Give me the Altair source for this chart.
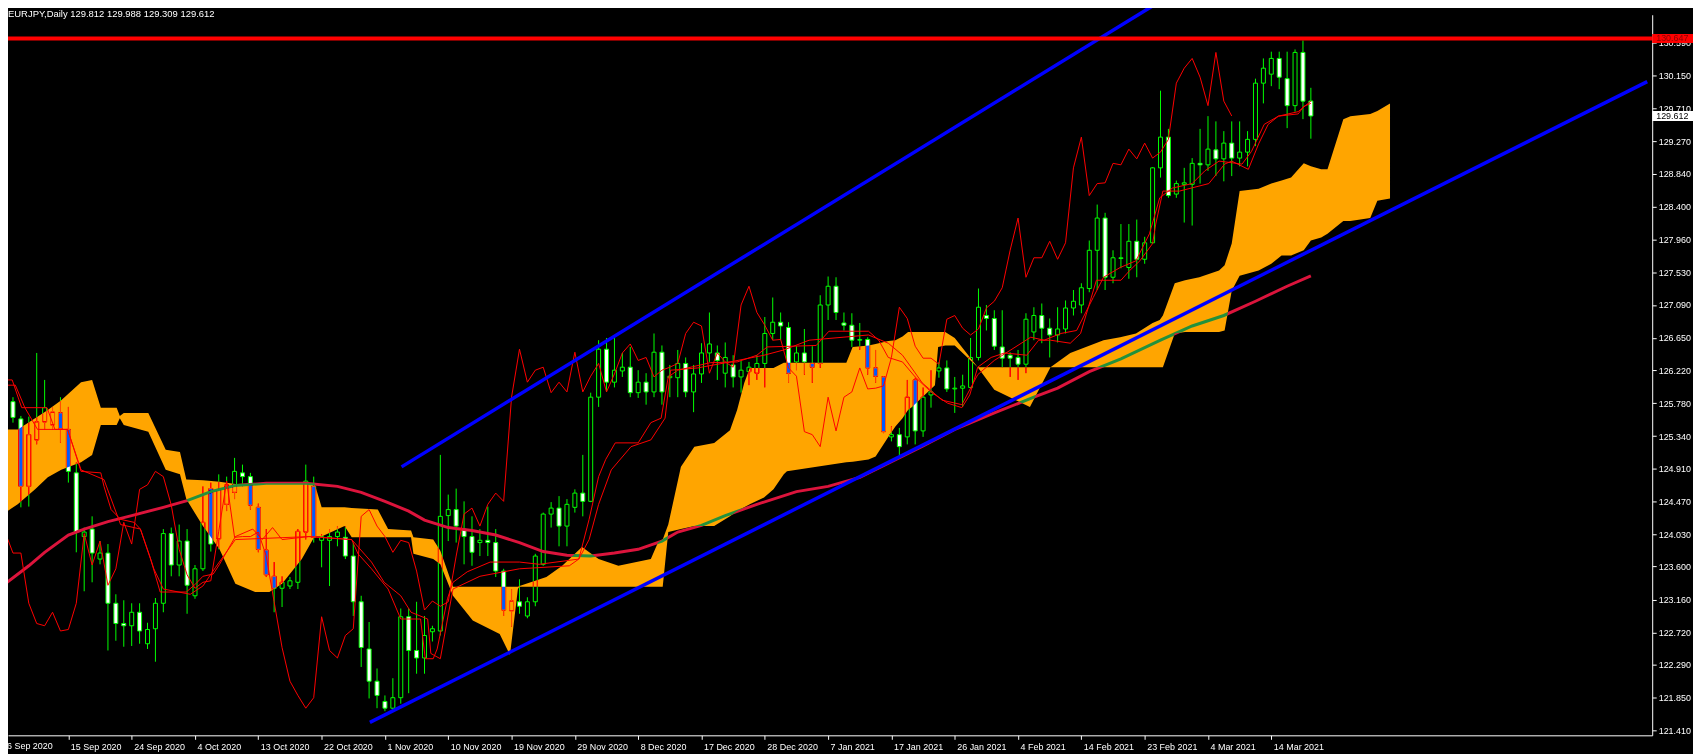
import altair as alt
import pandas as pd

# ---------------- data ----------------
opens = [125.69,125.80,125.57,124.67,125.29,125.53,125.49,125.65,125.43,124.85,
         124.00,124.10,123.70,123.78,123.11,122.84,122.81,122.99,122.57,122.77,
         123.11,124.04,123.62,123.94,123.21,123.57,124.64,123.97,124.43,124.59,
         124.85,124.80,124.39,123.82,123.47,123.31,123.34,123.39,124.06,124.67,
         123.95,123.95,124.00,123.99,123.74,123.13,122.50,122.07,121.80,121.71,
         121.85,122.93,122.48,122.38,122.73,122.74,124.28,124.36,124.10,124.00,
         123.92,123.95,123.92,123.54,123.01,123.13,122.94,123.13,123.63,124.30,
         124.38,124.14,124.39,124.58,124.47,125.86,126.50,126.06,126.21,126.26,
         125.92,126.06,125.93,126.46,126.12,126.12,126.31,125.93,126.17,126.45,
         126.45,126.18,126.29,126.13,126.20,126.18,126.31,126.71,126.86,126.79,
         126.33,126.45,126.31,126.31,127.09,127.34,126.85,126.82,126.62,126.63,
         126.25,126.13,125.33,125.36,125.33,126.09,125.41,125.89,126.21,126.25,
         125.97,125.98,125.99,126.39,126.95,126.91,126.53,126.42,126.39,126.30,
         126.73,126.95,126.78,126.69,126.77,127.05,127.09,127.31,127.82,128.25,
         127.46,127.71,127.59,127.94,127.70,127.92,128.92,129.33,128.57,128.70,
         128.70,128.98,128.96,129.16,129.04,129.25,129.05,129.13,129.30,130.05,
         130.17,130.38,130.11,129.75,130.46,129.812]
highs = [125.86,125.86,125.61,125.60,126.45,126.09,125.72,125.86,125.73,124.99,
         124.12,124.27,123.94,123.90,123.23,123.15,123.11,123.11,122.85,123.18,
         124.10,124.12,124.16,124.10,123.62,124.67,124.72,124.83,124.80,125.05,
         124.96,124.85,124.44,124.10,123.66,123.47,123.46,124.10,124.96,124.80,
         124.03,124.10,124.14,124.14,123.92,123.21,122.86,122.24,121.88,122.11,
         123.04,123.04,123.13,122.94,122.81,125.09,124.56,124.64,124.47,124.27,
         124.10,124.40,124.10,123.57,123.30,123.43,123.19,123.77,124.32,124.46,
         124.54,124.50,124.63,125.09,125.92,126.62,126.65,126.65,126.45,126.53,
         126.22,126.18,126.71,126.55,126.29,126.49,126.39,126.29,126.58,126.99,
         126.55,126.59,126.42,126.35,126.33,126.42,126.93,127.19,126.99,126.86,
         126.54,126.77,126.54,127.22,127.47,127.46,126.99,126.98,126.85,126.66,
         126.49,126.14,125.47,125.45,126.09,126.12,125.99,126.22,126.33,126.35,
         126.13,126.16,126.65,127.31,127.09,127.02,127.02,126.46,126.49,126.98,
         127.06,127.11,126.91,127.06,127.15,127.29,127.38,127.95,128.43,128.32,
         127.82,128.17,128.17,128.23,128.00,128.93,129.95,129.44,128.75,128.92,
         129.05,129.44,129.61,129.54,129.41,129.54,129.54,129.41,130.11,130.38,
         130.47,130.47,130.47,130.50,130.62,129.988]
lows = [125.64,125.52,124.39,124.40,125.23,125.43,125.43,125.25,124.72,123.79,
        123.27,123.39,123.63,122.48,122.61,122.53,122.54,122.57,122.50,122.33,
        122.99,123.47,123.47,122.97,123.17,123.54,123.80,123.83,124.34,124.50,
        124.67,124.36,123.79,123.46,122.99,123.06,123.30,123.30,123.96,123.92,
        123.59,123.34,123.87,123.70,122.94,122.26,121.84,121.71,121.67,121.68,
        121.77,121.91,122.17,122.17,122.60,122.68,123.94,123.92,123.63,123.61,
        123.74,123.74,123.46,122.94,122.80,122.97,122.91,123.07,123.61,124.12,
        123.87,123.87,124.32,124.27,124.46,125.73,125.93,125.99,126.13,125.86,
        125.85,125.76,125.86,125.76,125.86,125.86,125.86,125.66,126.05,126.33,
        126.09,125.99,125.99,125.92,126.02,126.09,125.99,126.62,126.62,126.05,
        126.22,126.16,126.05,126.25,126.89,126.89,126.75,126.53,126.49,126.16,
        126.05,125.38,125.27,125.07,125.23,125.23,125.33,125.72,126.12,125.93,
        125.65,125.73,125.98,126.35,126.75,126.49,126.26,126.13,126.09,126.18,
        126.62,126.58,126.39,126.59,126.71,126.95,126.98,127.26,127.29,127.29,
        127.38,127.58,127.44,127.46,127.64,127.91,128.79,128.52,128.52,128.19,
        128.15,128.71,128.88,128.81,128.74,128.81,128.94,128.94,129.21,129.78,
        130.01,129.97,129.45,129.67,129.57,129.309]
closes = [125.80,125.59,124.67,125.36,125.53,125.72,125.66,125.44,124.87,124.06,
          124.06,123.78,123.78,123.11,122.84,122.81,122.99,122.74,122.76,123.11,
          124.04,123.62,123.94,123.35,123.57,124.19,123.90,124.63,124.69,124.87,
          124.80,124.42,123.83,123.49,123.31,123.39,123.41,124.07,124.74,123.99,
          124.00,124.00,124.06,123.74,123.13,122.52,122.07,121.88,121.71,121.85,
          122.93,122.48,122.38,122.68,122.77,124.27,124.36,124.14,124.00,123.79,
          123.95,123.92,123.54,123.02,123.14,123.07,123.13,123.74,124.30,124.38,
          124.14,124.43,124.58,124.47,125.86,126.50,126.06,126.22,126.26,125.92,
          126.06,125.93,126.46,125.93,126.14,126.31,125.93,126.17,126.45,126.57,
          126.35,126.39,126.13,126.22,126.26,126.31,126.71,126.86,126.81,126.18,
          126.45,126.33,126.26,127.09,127.34,126.99,126.82,126.62,126.63,126.25,
          126.14,125.40,125.36,125.20,125.86,125.41,125.86,125.93,126.25,125.97,
          125.98,126.01,126.39,127.06,126.91,126.54,126.38,126.38,126.30,126.90,
          126.95,126.78,126.69,126.77,127.05,127.14,127.32,127.82,128.25,127.46,
          127.72,127.72,127.94,127.70,127.92,128.92,129.33,128.55,128.71,128.72,
          128.98,128.96,129.17,129.04,129.25,129.05,129.13,129.30,130.05,130.25,
          130.38,130.13,129.75,130.46,129.81,129.612]

# Ichimoku cloud (bar position, upper edge, lower edge)
cloud_idx = [0.0,1.6,3.8,5.4,7.1,9.6,11.0,12.1,14.1,14.5,15.0,18.1,20.3,22.1,22.9,25.0,
             27.1,29.1,31.6,33.4,35.0,37.5,39.1,40.0,42.9,43.8,47.1,48.4,51.3,51.6,
             54.1,55.0,56.6,59.1,62.5,63.8,64.8,65.0,68.4,70.4,72.9,75.0,77.5,81.6,
             82.5,83.1,83.8,85.4,87.1,89.6,91.6,92.5,93.4,94.1,95.9,97.1,98.4,98.8,
             106.3,107.1,109.1,110.0,111.6,112.5,113.4,114.1,114.6,115.9,117.5,117.9,
             118.8,120.0,122.9,125.0,129.5,132.1,134.6,138.8,140.9,142.9,145.0,145.9,
             146.3,147.8,149.1,150.9,153.4,154.1,155.0,156.0,158.4,160.0,161.3,162.5,
             164.1,165.0,166.3,167.1,169.1,170.0,172.5,173.4,175.0]
cloud_hi = [125.43,125.43,125.58,125.69,125.82,126.06,126.09,125.72,125.72,125.61,125.65,
            125.65,125.16,125.13,124.76,124.75,124.73,124.70,124.71,124.71,124.71,124.71,
            124.71,124.39,124.39,124.38,124.36,124.10,124.08,123.99,123.96,123.81,123.33,
            123.33,123.33,123.33,123.33,123.34,123.46,123.61,123.86,123.70,123.61,123.70,
            123.92,123.96,124.16,124.93,125.20,125.25,125.42,125.69,126.05,126.25,126.25,
            126.25,126.32,126.32,126.32,126.53,126.55,126.57,126.61,126.62,126.67,126.73,
            126.73,126.73,126.73,126.73,126.73,126.65,126.26,126.26,126.26,126.26,126.45,
            126.62,126.66,126.71,126.85,126.89,126.95,127.38,127.42,127.46,127.55,127.62,
            127.91,128.61,128.64,128.71,128.75,128.79,128.98,128.94,128.90,128.90,129.57,
            129.61,129.64,129.68,129.78]
cloud_lo = [124.32,124.43,124.63,124.79,124.89,124.99,125.09,125.49,125.49,125.58,125.49,
            125.40,124.89,124.83,124.50,124.14,123.83,123.37,123.26,123.26,123.37,123.70,
            124.00,124.00,124.14,123.99,123.99,123.99,123.99,123.77,123.70,123.63,123.21,
            122.88,122.70,122.42,123.30,123.33,123.33,123.33,123.33,123.33,123.33,123.33,
            123.33,123.33,124.06,124.10,124.14,124.14,124.27,124.34,124.39,124.43,124.52,
            124.63,124.83,124.87,124.99,125.00,125.03,125.07,125.33,125.47,125.58,125.69,
            125.73,125.86,126.02,126.53,126.55,126.55,126.26,125.96,125.73,126.26,126.26,
            126.26,126.26,126.26,126.26,126.26,126.26,126.71,126.73,126.73,126.73,126.75,
            127.28,127.48,127.55,127.64,127.75,127.75,127.82,127.95,127.99,128.04,128.21,
            128.21,128.25,128.48,128.51]

# thick moving average
ma_idx = [0,3,5,8,10,13,16,20,23,26,29,33,38,42,45,48,51,53,56,59,62,65,68,71,74,77,
          80,83,85,88,91,95,100,104,108,112,116,120,125,130,133,137,141,146,150,154,
          158,162,165]
ma_val = [123.37,123.61,123.79,124.02,124.10,124.20,124.28,124.39,124.48,124.60,124.68,
          124.71,124.71,124.67,124.59,124.47,124.34,124.22,124.12,124.08,124.02,123.92,
          123.80,123.75,123.74,123.78,123.83,123.94,124.06,124.15,124.28,124.43,124.60,
          124.67,124.79,125.00,125.21,125.43,125.65,125.86,125.98,126.20,126.37,126.62,
          126.81,126.95,127.14,127.34,127.48]

# Tenkan-sen
tenkan_idx = [0,0.9,2.1,5.3,6.3,7.9,9.6,12.1,12.5,13.4,14.6,16.3,17.1,18.4,19.6,22.9,
              24.1,25.0,26.3,27.1,29.1,31.3,32.5,33.8,35.0,38.4,43.8,44.6,46.3,48.4,50.0,
              52.5,53.1,54.1,54.6,55.9,56.6,58.4,61.3,65.0,67.5,72.5,73.8,75.0,75.9,77.1,
              80.0,81.6,82.9,83.8,85.0,89.1,92.5,95.0,96.3,102.5,104.1,109.1,110.4,111.6,
              113.4,115.0,117.1,119.1,120.9,121.9,122.9,124.6,126.3,129.1,130.6,132.1,
              134.6,135.9,137.9,141.0,142.1,143.4,145.0,145.4,146.3,148.4,152.1,154.1,
              155.0,157.1,158.4,159.6,160.9,163.4,164.1,165.0]
tenkan_val = [126.09,126.09,125.72,125.72,125.43,125.43,124.87,124.85,124.67,124.36,124.23,
              124.19,124.10,123.70,123.26,123.26,123.37,123.47,123.50,123.63,124.00,124.10,
              123.96,124.12,123.96,124.00,123.96,123.77,123.57,123.30,122.90,122.90,122.37,
              122.37,122.50,123.17,123.39,123.53,123.66,123.66,123.63,123.70,124.23,124.80,
              125.03,125.25,125.25,125.52,125.58,126.13,126.22,126.32,126.33,126.42,126.53,
              126.55,126.74,126.74,126.62,126.39,126.33,126.13,125.92,125.78,125.72,125.89,
              126.26,126.39,126.45,126.42,126.62,126.62,126.58,126.71,127.42,127.42,127.55,
              127.68,127.91,128.17,128.61,128.61,128.71,128.97,129.01,128.90,129.24,129.50,
              129.61,129.64,129.74,129.78]

# Kijun-sen
kijun_idx = [0,1.3,2.5,4.1,7.9,9.6,12.5,14.6,17.1,18.8,20.0,23.4,25.0,26.6,29.1,38.4,43.8,
             46.3,47.9,50.0,51.3,53.4,53.8,55.0,55.9,56.6,60.0,65.0,71.3,72.5,73.8,75.0,
             76.6,79.1,81.6,83.4,84.1,87.5,91.6,95.9,98.4,101.6,109.1,111.6,113.4,115.9,
             118.4,120.9,122.9,125.0,129.6,131.3,133.4,135.4,137.5,138.8,140.9,142.9,
             144.6,145.9,147.5,150.0,151.6,153.4,156.3,157.5,159.1,160.9,163.4,165.0]
kijun_val = [126.02,126.02,125.72,125.43,125.43,124.89,124.76,124.16,124.10,123.57,123.30,
             123.23,123.34,123.59,123.96,124.00,123.96,123.66,123.39,123.21,122.99,122.90,
             122.44,122.37,122.90,123.30,123.47,123.57,123.61,123.70,123.96,124.43,124.89,
             125.20,125.29,125.58,126.22,126.25,126.33,126.42,126.49,126.62,126.69,126.58,
             126.42,126.05,125.82,125.76,126.16,126.35,126.66,126.62,126.71,126.75,127.19,
             127.46,127.59,127.68,128.04,128.52,128.65,128.71,128.88,129.01,128.97,129.14,
             129.50,129.61,129.67,129.81]

# Chikou span: the closes drawn 10 bars back
chikou_shift = 10

# hand-drawn objects
upper_idx = [50.1, 145.0]
upper_val = [124.93, 131.08]
lower_idx = [46.1, 207.5]
lower_val = [121.52, 130.07]
resistance = 130.647
last_close = 129.612

first_date_label = "6 Sep 2020"
date_ticks = [8, 16, 24, 32, 40, 48, 56, 64, 72, 80, 88, 96, 104, 112, 120, 128, 136, 144, 152, 160]
date_labels = ["15 Sep 2020", "24 Sep 2020", "4 Oct 2020", "13 Oct 2020", "22 Oct 2020",
               "1 Nov 2020", "10 Nov 2020", "19 Nov 2020", "29 Nov 2020", "8 Dec 2020",
               "17 Dec 2020", "28 Dec 2020", "7 Jan 2021", "17 Jan 2021", "26 Jan 2021",
               "4 Feb 2021", "14 Feb 2021", "23 Feb 2021", "4 Mar 2021", "14 Mar 2021"]
price_ticks = [131.020, 130.590, 130.150, 129.710, 129.270, 128.840, 128.400, 127.960,
               127.530, 127.090, 126.650, 126.220, 125.780, 125.340, 124.910, 124.470,
               124.030, 123.600, 123.160, 122.720, 122.290, 121.850, 121.410]
header = "EURJPY,Daily  129.812 129.988 129.309 129.612"

# ---------------- tables ----------------
n = len(closes)
candles = pd.DataFrame({
    "i": list(range(n)), "open": opens, "high": highs, "low": lows, "close": closes,
})
candles["kind"] = ["bull" if c >= o else "bear" for o, c in zip(opens, closes)]
cloud = pd.DataFrame({"i": cloud_idx, "hi": cloud_hi, "lo": cloud_lo})
ma = pd.DataFrame({"i": ma_idx, "v": ma_val})
tenkan = pd.DataFrame({"i": tenkan_idx, "v": tenkan_val})
kijun = pd.DataFrame({"i": kijun_idx, "v": kijun_val})
chikou = pd.DataFrame({"i": list(range(n - chikou_shift)), "v": closes[chikou_shift:]})
trend = pd.DataFrame({
    "i": upper_idx + lower_idx, "v": upper_val + lower_val,
    "line": ["upper"] * 2 + ["lower"] * 2,
})
tags = pd.DataFrame({
    "v": [resistance, last_close],
    "label": [f"{resistance:.3f}", f"{last_close:.3f}"],
    "bg": ["#FF0000", "#FFFFFF"], "fg": ["#8B0000", "#000000"],
})

# ---------------- chart ----------------
W, H = 1652, 724
FONT = "Liberation Sans"
xs = alt.Scale(domain=[1, 207.5], nice=False, zero=False)
ys = alt.Scale(domain=[121.348, 130.963], nice=False, zero=False)
label_js = "[" + ",".join("'" + s + "'" for s in date_labels) + "]"
xaxis = alt.Axis(values=date_ticks, labelExpr=label_js + "[round(datum.value/8)-1]",
                 title=None, grid=False, domainColor="#FFFFFF", tickColor="#FFFFFF",
                 labelColor="#FFFFFF", tickSize=4, labelPadding=3, labelAlign="left",
                 labelOffset=2, labelFont=FONT, labelFontSize=9, labelOverlap=False,
                 labelFlush=False, labelBound=False)
yaxis = alt.Axis(orient="right", values=price_ticks, format=".3f", title=None, grid=False,
                 domainColor="#FFFFFF", tickColor="#FFFFFF", labelColor="#FFFFFF",
                 tickSize=4, labelPadding=2, labelFont=FONT, labelFontSize=9,
                 labelOverlap=False, labelFlush=False, labelBound=False)


def X(f):
    return alt.X(f, type="quantitative", scale=xs, axis=xaxis)


def Y(f):
    return alt.Y(f, type="quantitative", scale=ys, axis=yaxis)


wicks = alt.Chart(candles).mark_rule(color="#00FF00", strokeWidth=1, clip=True).encode(
    x=X("i"), y=Y("low"), y2="high")
bodies = alt.Chart(candles).mark_bar(width=4, stroke="#00FF00", strokeWidth=1, clip=True).encode(
    x=X("i"), y=Y("open"), y2="close",
    fill=alt.Fill("kind:N", scale=alt.Scale(domain=["bull", "bear"], range=["#000000", "#FFFFFF"]),
                  legend=None))
ma_line = alt.Chart(ma).mark_line(color="#DC143C", strokeWidth=3, clip=True).encode(
    x=X("i"), y=Y("v"))
# no clip here: a clipped group would isolate the blend from the candles beneath
kumo = alt.Chart(cloud).mark_area(color="#FFA500", blend="difference",
                                  opacity=1).encode(x=X("i"), y=Y("hi"), y2="lo")
t_line = alt.Chart(tenkan).mark_line(color="#FF0000", strokeWidth=1, clip=True).encode(
    x=X("i"), y=Y("v"))
k_line = alt.Chart(kijun).mark_line(color="#FF0000", strokeWidth=1, clip=True).encode(
    x=X("i"), y=Y("v"))
c_line = alt.Chart(chikou).mark_line(color="#FF0000", strokeWidth=1, clip=True).encode(
    x=X("i"), y=Y("v"))
trend_lines = alt.Chart(trend).mark_line(color="#0000FF", strokeWidth=3.5).encode(
    x=X("i"), y=Y("v"), detail="line:N")
res_line = alt.Chart(tags.iloc[[0]]).mark_rule(color="#FF0000", strokeWidth=4).encode(y=Y("v"))
tag_box_red = alt.Chart(tags.iloc[[0]]).mark_point(
    shape="M-1,-0.22L1,-0.22L1,0.22L-1,0.22Z", size=41 * 41, filled=True, opacity=1,
    strokeWidth=0).encode(
    x=alt.value(W + 20.5), y=Y("v"), color=alt.Color("bg:N", scale=None))
tag_box_white = alt.Chart(tags.iloc[[1]]).mark_point(
    shape="M-1,-0.25L1,-0.25L1,0.25L-1,0.25Z", size=41 * 41, filled=True, opacity=1,
    strokeWidth=0).encode(
    x=alt.value(W + 20.5), y=Y("v"), color=alt.Color("bg:N", scale=None))
tag_text = alt.Chart(tags).mark_text(align="left", baseline="middle", font=FONT,
                                     fontSize=9).encode(
    x=alt.value(W + 4), y=Y("v"), text="label:N", color=alt.Color("fg:N", scale=None))
title_text = alt.Chart(pd.DataFrame({"t": [header]})).mark_text(
    align="left", baseline="middle", font=FONT, fontSize=9.5, color="#FFFFFF").encode(
    x=alt.value(0), y=alt.value(-1), text="t:N")
first_label = alt.Chart(pd.DataFrame({"t": [first_date_label]})).mark_text(
    align="left", baseline="top", font=FONT, fontSize=9, color="#FFFFFF").encode(
    x=alt.value(-1), y=alt.value(H + 7), text="t:N")

chart = alt.layer(
    wicks, bodies, ma_line, kumo, t_line, k_line, c_line, trend_lines, res_line,
    tag_box_red, tag_box_white, tag_text, title_text, first_label
).properties(
    width=W, height=H, background="#000000",
    padding={"left": 0, "top": 5, "right": 41, "bottom": 17},
    autosize=alt.AutoSizeParams(type="none"),
).configure_view(strokeWidth=0)

chart.save("out.html", embed_options={"renderer": "svg", "actions": False})
